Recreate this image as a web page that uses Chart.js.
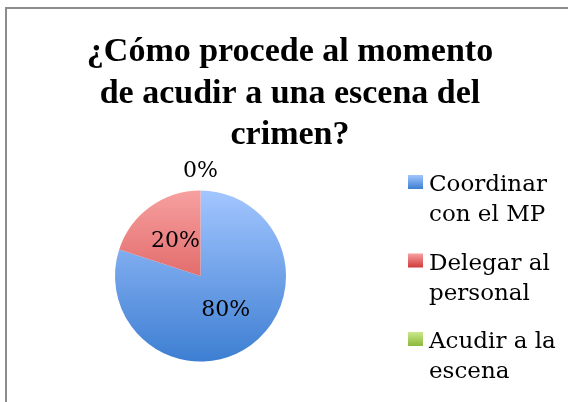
<!DOCTYPE html>
<html>
<head>
<meta charset="utf-8">
<script src="https://cdn.jsdelivr.net/npm/chart.js@4/dist/chart.umd.min.js"></script>
<style>
  html, body { margin: 0; padding: 0; background: #fff; }
  #wrap { position: absolute; left: 0; top: 0; width: 568px; height: 402px; }
</style>
</head>
<body>
<div id="wrap"><canvas id="myChart"></canvas></div>
<script>
const titleLines = ['¿Cómo procede al momento', 'de acudir a una escena del', 'crimen?']
const categories = [['Coordinar', 'con el MP'], ['Delegar al', 'personal'], ['Acudir a la', 'escena']]
const percentValues = [80, 20, 0]
const colorsTop = ['#a3c6ff', '#f7a0a0', '#cbe88a']
const colorsBottom = ['#3d7ed2', '#cf3a3a', '#8cb83c']

const titleFont = 'bold 34px "Liberation Serif", serif'
const textFont = '22px "DejaVu Serif", serif'
const legendFont = '23px "DejaVu Serif", serif'

let sliceFill = (ctx) => {
    let chart = ctx.chart
    let area = chart.chartArea
    if (!area) return colorsBottom[ctx.dataIndex]
    let g = chart.ctx.createLinearGradient(0, area.top, 0, area.bottom)
    g.addColorStop(0, colorsTop[ctx.dataIndex])
    g.addColorStop(1, colorsBottom[ctx.dataIndex])
    return g
}

// percent labels on the slices
const sliceLabels = {
    id: 'sliceLabels',
    afterDatasetsDraw(chart) {
        let c = chart.ctx
        let meta = chart.getDatasetMeta(0)
        c.save()
        c.font = textFont
        c.fillStyle = '#000'
        c.textAlign = 'center'
        c.textBaseline = 'middle'
        meta.data.forEach((arc, i) => {
            let p = arc.getProps(['x', 'y', 'startAngle', 'endAngle', 'outerRadius'], true)
            let mid = (p.startAngle + p.endAngle) / 2
            let r = percentValues[i] == 0 ? p.outerRadius * 1.23 : p.outerRadius * 0.5
            c.fillText(percentValues[i] + '%', p.x + Math.cos(mid) * r, p.y + Math.sin(mid) * r)
        })
        c.restore()
    }
}

// title, legend on the right with wrapped labels, outer frame
const frameAndText = {
    id: 'frameAndText',
    afterDraw(chart) {
        let c = chart.ctx
        c.save()
        c.strokeStyle = '#8c8c8c'
        c.lineWidth = 2
        c.strokeRect(6, 8, 580, 420)

        c.fillStyle = '#000'
        c.font = titleFont
        c.textAlign = 'center'
        c.textBaseline = 'alphabetic'
        titleLines.forEach((t, k) => c.fillText(t, 290, 61 + k * 41.5))

        c.font = legendFont
        c.textAlign = 'left'
        categories.forEach((lines, i) => {
            let y = 175 + i * 78.5
            let g = c.createLinearGradient(0, y, 0, y + 14)
            g.addColorStop(0, colorsTop[i])
            g.addColorStop(1, colorsBottom[i])
            c.fillStyle = g
            c.fillRect(408, y, 15, 14)
            c.fillStyle = '#000'
            lines.forEach((t, k) => c.fillText(t, 429, y + 16 + k * 30))
        })
        c.restore()
    }
}

const config = {
    type: 'pie',
    data: {
        labels: categories,
        datasets: [{
            data: percentValues,
            backgroundColor: sliceFill,
            borderWidth: 0
        }]
    },
    options: {
        responsive: false,
        animation: false,
        layout: {
            padding: { left: 115, right: 282, top: 190, bottom: 40 }
        },
        plugins: {
            legend: false,
            tooltip: { enabled: false },
            title: { display: false }
        }
    },
    plugins: [sliceLabels, frameAndText]
}

let canvas = document.getElementById('myChart')
canvas.width = 568
canvas.height = 402
canvas.style.width = '568px'
canvas.style.height = '402px'
const myChart = new Chart(canvas, config)
</script>
</body>
</html>
